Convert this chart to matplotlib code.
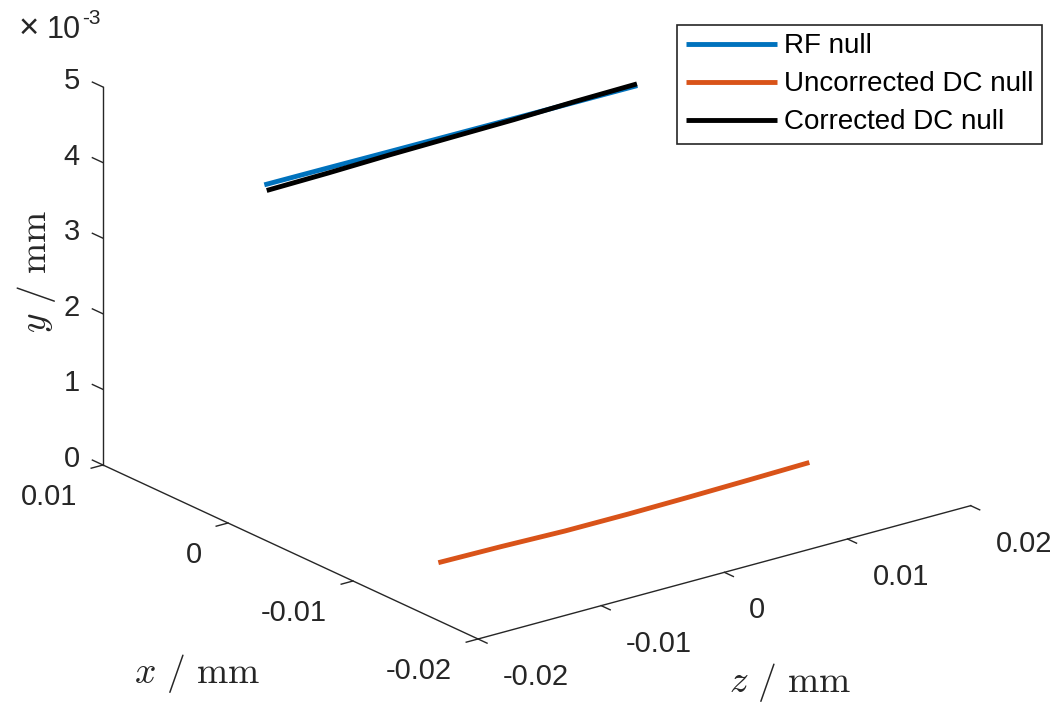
import numpy as np
import matplotlib
matplotlib.use('Agg')
import matplotlib.pyplot as plt
from mpl_toolkits.mplot3d import proj3d

plt.rcParams['font.family'] = ['Liberation Sans', 'DejaVu Sans']
plt.rcParams['mathtext.fontset'] = 'cm'
plt.rcParams['xtick.color'] = '#262626'
plt.rcParams['ytick.color'] = '#262626'
plt.rcParams['xtick.major.width'] = 1.0
plt.rcParams['ytick.major.width'] = 1.0

# ---------------- data (mm) ----------------
z_mm = [-0.0136, -0.0086, -0.0036, 0.0015, 0.0065, 0.0115, 0.0165]
rf_x = [0.00340, 0.00337, 0.00333, 0.00330, 0.00327, 0.00324, 0.00322]
rf_y = [0.00393, 0.00393, 0.00393, 0.00393, 0.00393, 0.00393, 0.00393]
unc_x = [-0.01052, -0.01062, -0.01080, -0.01082, -0.01076, -0.01066, -0.01054]
unc_y = [0.0, 0.0, 0.0, 0.0, 0.0, 0.0, 0.0]
cor_x = [0.00321, 0.00322, 0.00322, 0.00323, 0.00323, 0.00324, 0.00325]
cor_y = [0.00387, 0.00388, 0.00390, 0.00391, 0.00392, 0.00394, 0.00395]

series_labels = ['RF null', 'Uncorrected DC null', 'Corrected DC null']
series_colors = ['#0072BD', '#D95319', '#000000']

x_lim = (-0.02, 0.01)
y_lim = (0.0, 0.005)
z_lim = (-0.02, 0.02)
x_ticks = [-0.02, -0.01, 0.0, 0.01]
x_ticklabels = ['-0.02', '-0.01', '0', '0.01']
z_ticks = [-0.02, -0.01, 0.0, 0.01, 0.02]
z_ticklabels = ['-0.02', '-0.01', '0', '0.01', '0.02']
y_ticks = [0.0, 0.001, 0.002, 0.003, 0.004, 0.005]
y_ticklabels = ['0', '1', '2', '3', '4', '5']

# ---------------- figure ----------------
W, H = 1060, 703
fig = plt.figure(figsize=(W / 100, H / 100), dpi=100)
ax = fig.add_axes([0, 0, 1, 1], projection='3d')
ax.set_proj_type('ortho')
ax.view_init(elev=20.75, azim=-127.37)
ax.set_box_aspect((619.9, 617.9, 404.2))

# mpl X = data z, mpl Y = data x, mpl Z = data y (vertical)
lines = []
for xs, ys, lab, col in [(rf_x, rf_y, series_labels[0], series_colors[0]),
                         (unc_x, unc_y, series_labels[1], series_colors[1]),
                         (cor_x, cor_y, series_labels[2], series_colors[2])]:
    ln, = ax.plot(z_mm, xs, ys, color=col, lw=3.5, label=lab, solid_capstyle='butt')
    lines.append(ln)

ax.set_xlim(z_lim)
ax.set_ylim(x_lim)
ax.set_zlim(y_lim)
ax.set_xticks(z_ticks)
ax.set_yticks(x_ticks)
ax.set_zticks(y_ticks)
ax.set_xticklabels([''] * len(z_ticks))
ax.set_yticklabels([''] * len(x_ticks))
ax.set_zticklabels([''] * len(y_ticks))
ax.grid(False)

for axis in (ax.xaxis, ax.yaxis, ax.zaxis):
    axis.set_pane_color((1, 1, 1, 0))
    axis.pane.set_edgecolor((1, 1, 1, 0))
    axis.line.set_color('#262626')
    axis.line.set_linewidth(1.0)
    axis._axinfo['tick']['inward_factor'] = 0.3
    axis._axinfo['tick']['outward_factor'] = 0.0
# vertical-axis ticks are drawn below along the data-x direction instead
ax.zaxis._axinfo['tick']['inward_factor'] = 0.0

# vertical-axis tick marks, pointing along +x (out of the box), as in MATLAB
tick_len_x = 0.00085
for v in y_ticks:
    ax.plot([z_lim[0], z_lim[0]], [x_lim[1], x_lim[1] + tick_len_x], [v, v],
            color='#262626', lw=1.0)


def to_px(X, Y, Z):
    xs, ys, _ = proj3d.proj_transform(np.atleast_1d(X), np.atleast_1d(Y),
                                      np.atleast_1d(Z), ax.get_proj())
    return ax.transData.transform(np.column_stack([xs, ys]))


# fit axes position so the box corners land where they are in the reference
A_t = np.array([103.0, H - 465.0])     # z=min, x=max, y=0
B_t = np.array([970.7, H - 505.7])     # z=max, x=min, y=0
for _ in range(3):
    fig.canvas.draw()
    pos = ax.get_position(original=False)
    S = pos.width * W
    c = np.array([(pos.x0 + pos.width / 2) * W, (pos.y0 + pos.height / 2) * H])
    a = to_px(z_lim[0], x_lim[1], y_lim[0])[0]
    b = to_px(z_lim[1], x_lim[0], y_lim[0])[0]
    k = np.linalg.norm(B_t - A_t) / np.linalg.norm(b - a)
    c_new = A_t - k * (a - c)
    S_new = S * k
    ax.set_position([(c_new[0] - S_new / 2) / W, (c_new[1] - S_new / 2) / H,
                     S_new / W, S_new / H])
fig.canvas.draw()

tick_kw = dict(fontsize=21, color='#262626')
# data-x tick labels (along mpl Y axis at z=min)
for v, lab in zip(x_ticks, x_ticklabels):
    p = to_px(z_lim[0], v, y_lim[0])[0]
    fig.text((p[0] - 26) / W, (p[1] - 32) / H, lab, ha='right', va='center', **tick_kw)
# data-z tick labels (along mpl X axis at x=min)
for v, lab in zip(z_ticks, z_ticklabels):
    p = to_px(v, x_lim[0], y_lim[0])[0]
    fig.text((p[0] + 25) / W, (p[1] - 38) / H, lab, ha='left', va='center', **tick_kw)
# vertical tick labels
for v, lab in zip(y_ticks, y_ticklabels):
    p = to_px(z_lim[0], x_lim[1], v)[0]
    fig.text((p[0] - 23) / W, (p[1] + 6) / H, lab, ha='right', va='center', **tick_kw)

fig.text(19 / W, 1 - 38 / H, '×', ha='left', va='baseline', fontsize=25, color='#262626')
fig.text(47 / W, 1 - 38 / H, '10', ha='left', va='baseline', fontsize=22, color='#262626')
fig.text(82 / W, 1 - 24 / H, '-3', ha='left', va='baseline', fontsize=15, color='#262626')

lab_kw = dict(fontsize=27, color='#262626')
fig.text(197 / W, 1 - 683 / H, r'$x\ /\ \mathrm{mm}$', ha='center', va='baseline', **lab_kw)
fig.text(790 / W, 1 - 692 / H, r'$z\ /\ \mathrm{mm}$', ha='center', va='baseline', **lab_kw)
fig.text(37 / W, 1 - 272 / H, r'$y\ /\ \mathrm{mm}$', rotation=90,
         ha='center', va='center', **lab_kw)

leg = fig.legend(handles=lines, loc='upper right',
                 bbox_to_anchor=(1042 / W, 1 - 25 / H), borderaxespad=0,
                 fontsize=20, frameon=True, fancybox=False, framealpha=1,
                 edgecolor='#262626', handlelength=3.3, handletextpad=0.25,
                 labelspacing=0.43, borderpad=0.3)
leg.get_frame().set_linewidth(1.2)

fig.savefig('out.png', dpi=100)
